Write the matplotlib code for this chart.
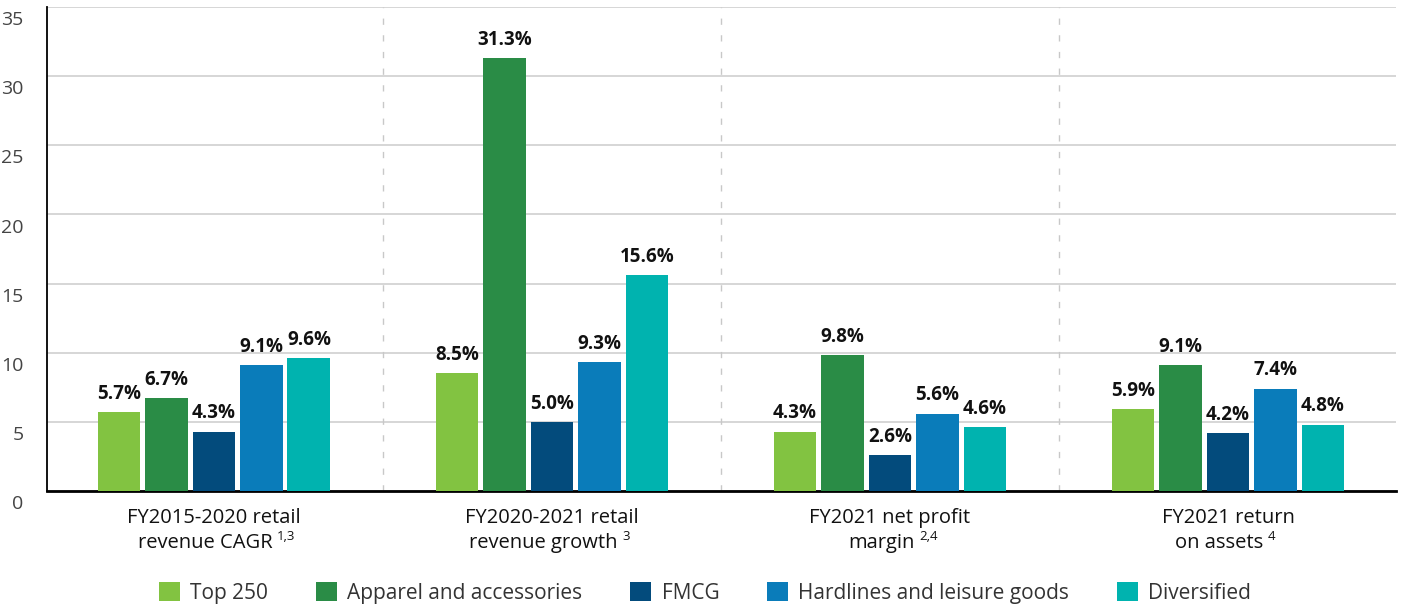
import matplotlib
matplotlib.use("Agg")
import matplotlib.pyplot as plt
import matplotlib.transforms as mtransforms
import numpy as np

plt.rcParams['font.family'] = ['Open Sans', 'DejaVu Sans']

categories_line1 = ["FY2015-2020 retail", "FY2020-2021 retail", "FY2021 net profit", "FY2021 return"]
categories_line2 = ["revenue CAGR", "revenue growth", "margin", "on assets"]
footnotes = ["1,3", "3", "2,4", "4"]
series_names = ["Top 250", "Apparel and accessories", "FMCG", "Hardlines and leisure goods", "Diversified"]
top250 = [5.7, 8.5, 4.3, 5.9]
apparel = [6.7, 31.3, 9.8, 9.1]
fmcg = [4.3, 5.0, 2.6, 4.2]
hardlines = [9.1, 9.3, 5.6, 7.4]
diversified = [9.6, 15.6, 4.6, 4.8]
yticks = [0, 5, 10, 15, 20, 25, 30, 35]

colors = ["#82C341", "#2A8C46", "#034B7C", "#0A7CBA", "#00B3AF"]
series = [top250, apparel, fmcg, hardlines, diversified]

fig = plt.figure(figsize=(14.02, 6.09), dpi=100)
ax = fig.add_axes([47/1402, 1-491/609, (1396-47)/1402, (491-7)/609])

x = np.arange(len(categories_line1))
pitch = 0.1405
width = 0.127
for i, (vals, name, c) in enumerate(zip(series, series_names, colors)):
    bars = ax.bar(x + (i-2)*pitch, vals, width=width, color=c, label=name, zorder=3)
    ax.bar_label(bars, labels=[f"{v:.1f}%" for v in vals], padding=6,
                 fontsize=13.5, fontweight='bold', color='#111111')

ax.set_xlim(-0.494, 3.497)
ax.set_ylim(0, 35)
ax.set_yticks(yticks)
ax.set_xticks([])
ax.yaxis.grid(True, color='#cccccc', linewidth=1.1, zorder=0)
ax.set_axisbelow(True)
for xs in [0.5, 1.5, 2.5]:
    ax.axvline(xs, color='#c8c8c8', linewidth=1, linestyle=(0, (4.5, 7.5)), zorder=1)

for s in ['top', 'right']:
    ax.spines[s].set_visible(False)
ax.spines['left'].set_linewidth(1.3)
ax.spines['bottom'].set_linewidth(2)
ax.spines['left'].set_color('black')
ax.spines['bottom'].set_color('black')
ax.tick_params(axis='y', length=0, pad=17, labelsize=14, labelcolor='#444444')

offset = mtransforms.ScaledTranslation(0, -3/72, fig.dpi_scale_trans)
for lab in ax.get_yticklabels():
    lab.set_va('top')
    lab.set_transform(lab.get_transform() + offset)

trans = mtransforms.blended_transform_factory(ax.transData, ax.transAxes)
for xi, l1, l2, fn in zip(x, categories_line1, categories_line2, footnotes):
    ax.text(xi, -0.035, l1, transform=trans, ha='center', va='top', fontsize=14.5, color='#111111')
    t = ax.text(xi - 0.025, -0.087, l2, transform=trans, ha='center', va='top', fontsize=14.5, color='#111111')
    fig.canvas.draw()
    bb = t.get_window_extent()
    ax.annotate(fn, xy=(bb.x1, bb.y1), xycoords='figure pixels', xytext=(3, 2),
                textcoords='offset points', ha='left', va='top', fontsize=9.5, color='#111111')

handles, labels = ax.get_legend_handles_labels()
fig.legend(handles, labels, loc='center', bbox_to_anchor=(0.503, 1-593/609), ncol=5,
           frameon=False, fontsize=15, handlelength=1.0, handleheight=1.0,
           handletextpad=0.5, columnspacing=2.3, labelcolor='#333333')

fig.savefig("out.png", dpi=100)
